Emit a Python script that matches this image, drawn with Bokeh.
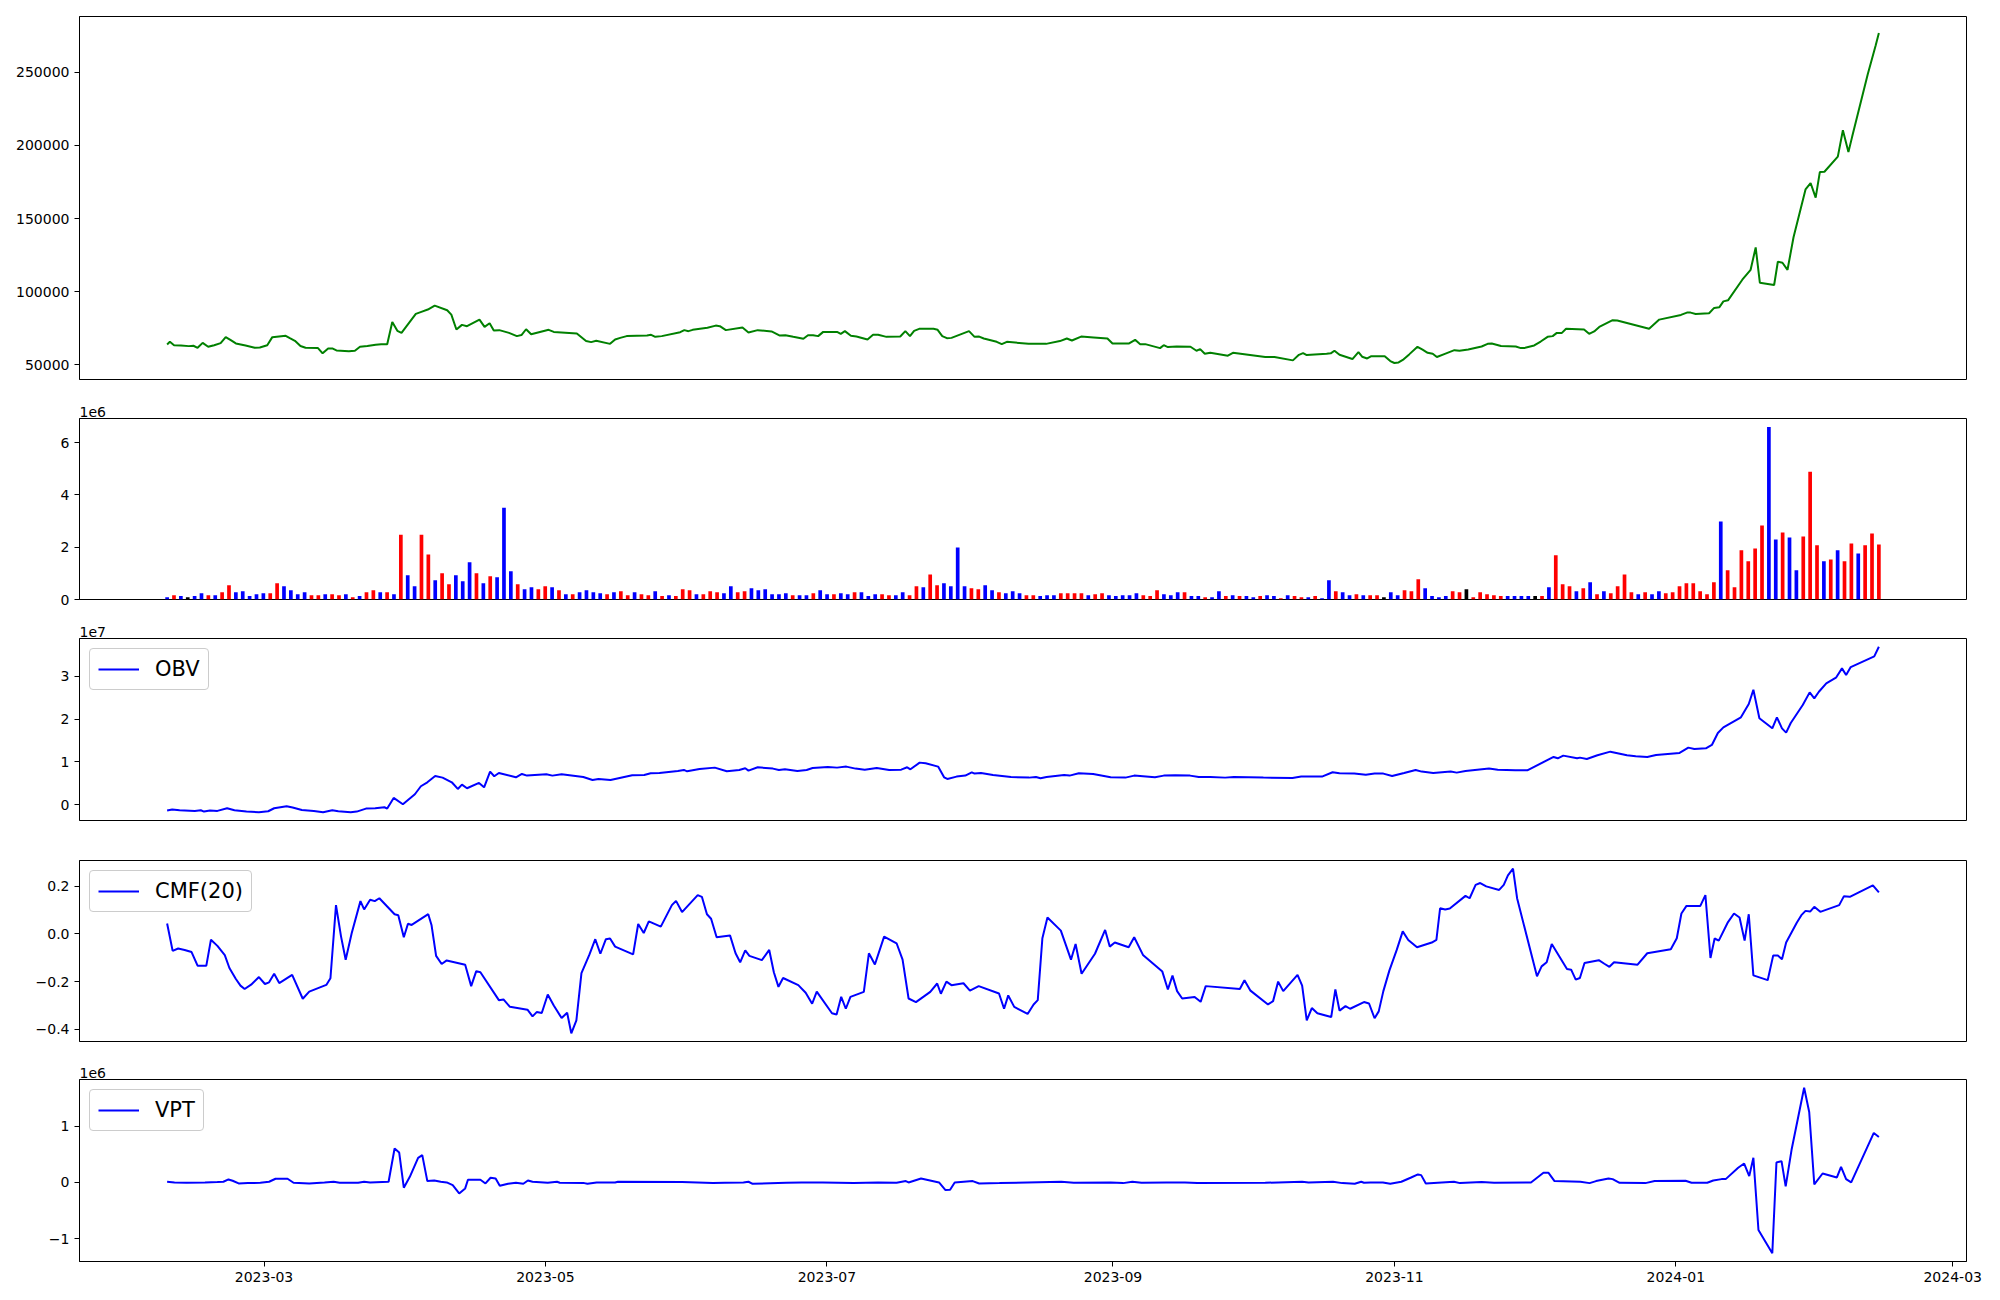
import pandas as pd
from bokeh.plotting import figure
from bokeh.layouts import column
from bokeh.models import (Range1d, FixedTicker, CustomJSTickFormatter, Legend,
                          LegendItem, Title, ColumnDataSource)
from bokeh.embed import file_html
from bokeh.resources import INLINE

# ---------------------------------------------------------------- data
FIRST_DATE = "2023-02-08"
LAST_DATE = "2024-02-14"
N_BARS = 250

# price line: days since FIRST_DATE and value
price_days = [0.0, 0.6, 1.5, 3.0, 4.7, 5.7, 6.6, 7.7, 8.9, 10.2, 11.6, 12.7, 13.8, 14.9, 17.0,
              19.0, 20.1, 21.7, 22.8, 25.7, 26.6, 27.7, 28.9, 30.0, 32.7, 33.7, 34.9, 35.8, 36.7,
              39.4, 40.7, 41.8, 43.4, 45.2, 46.4, 47.7, 48.8, 49.9, 50.8, 53.9, 55.1, 56.5, 58.0,
              60.7, 61.6, 62.7, 63.9, 65.0, 67.7, 68.8, 69.9, 70.8, 72.0, 74.1, 75.8, 76.8, 77.8,
              78.9, 82.7, 83.8, 88.8, 90.8, 91.9, 93.0, 96.0, 97.1, 98.2, 99.6, 104.0, 104.9, 105.8,
              107.2, 111.2, 112.1, 113.0, 113.9, 117.1, 118.9, 119.8, 121.1, 124.7, 126.0, 128.0,
              131.0, 132.8,
              134.0, 135.7, 137.9, 138.9, 140.0, 141.1, 142.2, 145.2, 146.0, 146.9, 148.2, 149.4,
              151.8, 153.0, 154.1, 155.9, 158.9, 160.0, 161.0, 161.9, 163.0, 166.1, 167.0, 168.0,
              169.0, 170.0, 173.8, 175.0, 176.0, 177.0, 179.8, 180.9, 182.0, 186.7, 190.5, 193.5,
              195.0, 196.1, 198.1, 200.8, 203.8, 204.9, 208.5, 209.8, 210.9, 212.0, 215.2, 216.0,
              216.9, 218.8, 221.8, 223.1, 223.9, 224.9, 226.1, 229.9, 231.0, 238.0, 240.0, 244.0,
              245.3, 246.2, 247.0, 251.3, 252.2, 253.0, 254.1, 256.9, 258.2, 259.0, 260.1, 261.0,
              263.9,
              265.1, 266.0, 266.9, 268.0, 269.2, 271.0, 272.1, 273.2, 274.3, 275.2, 276.8, 279.0,
              280.1, 282.0, 284.9, 286.2, 287.1, 289.1, 292.3, 293.4, 294.1, 296.3, 297.7, 299.2,
              300.3, 301.2, 302.3, 303.2, 307.1, 308.2, 309.3, 310.4, 313.3, 314.3, 321.2, 323.4,
              328.1, 329.4, 330.2, 331.3, 334.2, 335.3, 336.4, 337.3, 338.3, 341.4, 343.2, 344.3,
              345.2, 348.3, 349.1, 350.1, 351.2, 352.5, 355.1, 356.2, 357.3, 358.2, 359.2, 362.1,
              363.2, 364.4, 365.2, 368.6, 370.3, 371.0]
price_values = [63800, 65600, 63300, 63100, 62650, 62900, 61500, 64900, 62200, 63300, 64700, 68800,
                66700, 64500, 63100, 61500, 61700, 63300, 68800, 69700, 68100, 66300, 62700, 61500,
                61300, 57700, 61100, 61100, 59700, 59200, 59500, 62200, 62700, 63600, 64000, 64000,
                79200, 73100, 71700, 84700, 86100, 87700, 90400, 87200, 84200, 74000, 77200, 76300,
                80800, 75800, 78300, 73300, 73600, 71700, 69500, 70200, 74200, 70800, 73800, 72400,
                71300, 66100, 65400, 66300, 64200, 67200, 68300, 69500, 69900, 70400, 69000, 69500,
                72200, 73600, 72900, 73800, 75200, 76700, 76300, 73600, 75400, 72000, 73600, 72700,
                69900,
                70150, 69000, 67650, 70150, 70150, 69500, 72400, 72400, 71100, 72900, 69700, 69200,
                67200, 70400, 70400, 69000, 69200, 72900, 69500, 73100, 74500, 74500, 73800, 69500,
                68100, 68300, 72900, 69000, 69200, 67900, 65600, 64000, 65600, 64200, 64200, 66100,
                67900, 66500, 69200, 68600, 67900, 64500, 64500, 67000, 64000, 64000, 61300, 63300,
                62000, 62400, 62200, 59500, 60600, 57400, 58100, 56100, 58100, 55200, 55200, 52900,
                56700, 57900, 56500, 57400, 57700, 59500, 56700, 53800, 58600, 55400, 54200, 55800,
                55800,
                52400, 51100, 51500, 53600, 57000, 62200, 60200, 58100, 57400, 55200, 57200, 59900,
                59500, 60400, 62400, 64200, 64500, 62700, 62400, 61300, 61300, 63100, 65800, 69000,
                69500, 71700, 71700, 74500, 74000, 71100, 72700, 75800, 80400, 80200, 74500, 80800,
                84000, 85600, 85600, 84700, 85200, 88800, 89200, 93300, 94000, 108100, 114900, 130200,
                106100, 104500, 120400, 119700, 114900, 137200, 169900, 174300, 164300, 181800, 182000,
                192400, 210400, 195600, 205900, 249000, 268400, 277000]

# volume bars (one per sample, millions) and price direction (1 up, -1 down, 0 flat)
volume_millions = [
    0.09, 0.16, 0.13, 0.09, 0.13, 0.24, 0.16, 0.16, 0.28, 0.54,
    0.28, 0.32, 0.13, 0.20, 0.24, 0.24, 0.62, 0.51, 0.35, 0.20,
    0.28, 0.16, 0.16, 0.20, 0.20, 0.16, 0.20, 0.09, 0.13, 0.28,
    0.35, 0.28, 0.28, 0.20, 2.48, 0.93, 0.51, 2.48, 1.72, 0.74,
    1.00, 0.58, 0.93, 0.70, 1.42, 1.00, 0.62, 0.89, 0.85, 3.51,
    1.08, 0.58, 0.39, 0.47, 0.39, 0.51, 0.47, 0.35, 0.20, 0.20,
    0.28, 0.35, 0.28, 0.24, 0.20, 0.28, 0.32, 0.16, 0.28, 0.20,
    0.16, 0.32, 0.13, 0.16, 0.13, 0.39, 0.35, 0.20, 0.20, 0.32,
    0.28, 0.24, 0.51, 0.28, 0.32, 0.43, 0.35, 0.39, 0.20, 0.20,
    0.24, 0.16, 0.16,
    0.16, 0.24, 0.35, 0.20, 0.20, 0.24, 0.20, 0.28, 0.28, 0.13,
    0.20, 0.20, 0.16, 0.16, 0.28, 0.16, 0.51, 0.47, 0.96, 0.54,
    0.62, 0.51, 1.99, 0.51, 0.43, 0.39, 0.54, 0.35, 0.28, 0.24,
    0.32, 0.24, 0.16, 0.16, 0.13, 0.16, 0.16, 0.24, 0.24, 0.24,
    0.24, 0.16, 0.20, 0.24, 0.16, 0.13, 0.16, 0.16, 0.24, 0.16,
    0.13, 0.35, 0.20, 0.16, 0.28, 0.28, 0.13, 0.13, 0.09, 0.09,
    0.32, 0.13, 0.16, 0.13, 0.13, 0.09, 0.13, 0.16, 0.13, 0.05,
    0.16, 0.13, 0.09, 0.09, 0.13, 0.05, 0.74, 0.32, 0.28, 0.16,
    0.20, 0.16, 0.16, 0.16, 0.09, 0.28, 0.16,
    0.35, 0.32, 0.77, 0.43, 0.13, 0.09, 0.13, 0.32, 0.28, 0.39,
    0.09, 0.28, 0.20, 0.16, 0.13, 0.13, 0.13, 0.13, 0.13, 0.13,
    0.13, 0.47, 1.69, 0.58, 0.51, 0.32, 0.43, 0.66, 0.20, 0.32,
    0.24, 0.51, 0.96, 0.28, 0.20, 0.28, 0.20, 0.32, 0.24, 0.28,
    0.51, 0.62, 0.62, 0.32, 0.20, 0.66, 2.98, 1.12, 0.47, 1.88,
    1.46, 1.95, 2.83, 6.59, 2.29, 2.56, 2.37, 1.12, 2.41, 4.88,
    2.07, 1.46, 1.53, 1.88, 1.46, 2.14, 1.76, 2.07, 2.52, 2.10]
volume_direction = [
    -1, 1, -1, 0, -1, -1, 1, -1, 1, 1,
    -1, -1, -1, -1, -1, 1, 1, -1, -1, -1,
    -1, 1, 1, -1, 1, 1, -1, 1, -1, 1,
    1, -1, 1, -1, 1, -1, -1, 1, 1, -1,
    1, 1, -1, -1, -1, 1, -1, 1, -1, -1,
    -1, 1, -1, -1, 1, 1, -1, 1, -1, 1,
    -1, -1, -1, -1, 1, -1, 1, 1, -1, 1,
    1, -1, 1, -1, 1, 1, 1, -1, 1, 1,
    1, -1, -1, 1, 1, -1, -1, -1, -1, -1,
    -1, 1, -1,
    -1, 1, -1, -1, 1, -1, -1, 1, -1, -1,
    -1, 1, 1, -1, -1, 1, 1, -1, 1, 1,
    -1, -1, -1, -1, 1, 1, -1, -1, 1, -1,
    -1, -1, 1, 1, -1, -1, -1, 1, 1, 1,
    1, -1, 1, 1, -1, -1, -1, -1, -1, 1,
    1, 1, -1, -1, -1, 1, -1, -1, 1, -1,
    -1, 1, -1, 1, -1, -1, 1, -1, -1, 1,
    -1, 1, 1, -1, 1, -1, -1, 1, -1, -1,
    1, -1, 1, 1, 0, -1, -1,
    1, 1, 1, -1, -1, -1, -1, 1, 1, 0,
    1, 1, 1, 1, 1, -1, -1, -1, -1, 0,
    1, -1, 1, 1, 1, -1, 1, -1, 1, -1,
    1, 1, 1, 1, -1, 1, -1, -1, 1, 1,
    1, 1, 1, 1, 1, 1, -1, 1, 1, 1,
    1, 1, 1, -1, -1, 1, -1, -1, 1, 1,
    1, -1, 1, -1, 1, 1, -1, 1, 1, 1]

# OBV (units of 1e7)
obv_days = [0.0, 1.1, 2.7, 6.0, 7.3, 8.0, 9.3, 10.9, 13.0, 14.6, 17.2, 19.9, 21.9, 23.2, 25.9,
            27.2, 29.2, 31.8, 33.8, 35.8, 37.1, 39.8, 41.1, 43.1, 45.1, 47.1, 47.7, 49.1, 51.1,
            53.7, 55.0, 56.4, 58.1, 59.7, 61.7, 63.0, 63.9, 65.0, 67.6, 68.7, 70.0, 70.9, 71.9,
            75.6, 76.9, 78.0, 82.2, 83.5, 85.5, 90.2, 92.2, 93.5, 96.1, 100.8, 103.4, 104.8,
            106.7, 110.7, 112.0, 112.7, 115.4, 118.7, 121.3, 124.0, 125.3, 126.0, 128.0, 131.3,
            132.6, 133.9, 136.6, 138.6, 139.9, 143.2, 145.2, 147.2, 149.2, 151.2, 153.8, 156.5,
            159.1, 160.4, 161.1, 163.1, 164.4, 167.1, 168.4, 169.1, 171.1, 173.0, 174.4, 175.0,
            176.4, 179.0,
            182.9, 186.8, 188.3, 189.3, 190.6, 194.4, 195.6, 197.6, 200.7, 204.5, 207.7, 209.6,
            211.5, 214.1, 216.0, 218.5, 221.7, 223.6, 226.1, 229.3, 231.2, 237.6, 243.9, 245.8,
            250.3, 252.6, 254.1, 257.3, 259.8, 261.7, 263.6, 265.5, 268.1, 270.6, 271.9, 274.4,
            278.2, 279.5, 281.4, 286.5, 288.4, 292.2, 294.8, 300.5, 301.4, 302.6, 305.6, 306.2,
            307.7, 310.0, 312.8, 316.4, 318.3, 320.8, 322.7, 327.8, 329.7, 331.0, 333.5, 334.8,
            336.1, 337.3, 341.1, 342.8, 343.8, 345.1, 347.9, 348.9, 350.0, 350.9, 351.9, 354.5,
            356.0, 357.0, 358.0, 359.6, 361.7, 363.0, 363.9, 364.9, 370.0, 371.0]
obv_1e7 = [-0.140, -0.117, -0.133, -0.148, -0.133, -0.164, -0.140, -0.148, -0.086, -0.133,
           -0.164, -0.179, -0.156, -0.086, -0.039, -0.070, -0.125, -0.148, -0.179, -0.133,
           -0.156, -0.179, -0.164, -0.094, -0.086, -0.062, -0.094, 0.156, 0.008, 0.242,
           0.429, 0.522, 0.670, 0.631, 0.522, 0.366, 0.468, 0.382, 0.507, 0.405,
           0.772, 0.663, 0.740, 0.639, 0.717, 0.678, 0.709, 0.678, 0.709, 0.647,
           0.577, 0.600, 0.577, 0.686, 0.694, 0.733, 0.740, 0.787, 0.811, 0.779,
           0.834, 0.865, 0.779, 0.811, 0.850, 0.795, 0.873, 0.842, 0.811, 0.826,
           0.787, 0.811, 0.857, 0.881, 0.865, 0.889, 0.842, 0.818, 0.857, 0.811,
           0.818, 0.873, 0.826, 0.982, 0.966, 0.889, 0.639, 0.600, 0.655, 0.678,
           0.756, 0.725, 0.740, 0.694,
           0.647, 0.631, 0.647, 0.616, 0.647, 0.694, 0.678, 0.733, 0.717, 0.639,
           0.631, 0.678, 0.663, 0.639, 0.678, 0.686, 0.678, 0.647, 0.647, 0.631,
           0.647, 0.631, 0.624, 0.655, 0.655, 0.756, 0.733, 0.725, 0.701, 0.725,
           0.725, 0.670, 0.740, 0.811, 0.772, 0.740, 0.772, 0.748, 0.787, 0.842,
           0.818, 0.803, 0.803, 1.115, 1.083, 1.146, 1.083, 1.099, 1.068, 1.154,
           1.239, 1.154, 1.130, 1.115, 1.161, 1.208, 1.333, 1.302, 1.317, 1.395,
           1.676, 1.808, 2.042, 2.354, 2.689, 2.019, 1.785, 2.042, 1.785, 1.684,
           1.910, 2.330, 2.627, 2.486, 2.642, 2.837, 2.970, 3.188, 3.032, 3.219,
           3.468, 3.694]

# CMF(20)
cmf_days = [0.0, 1.2, 2.4, 3.8, 5.3, 6.6, 8.5, 9.5, 10.9, 12.5, 13.5, 14.9, 15.9, 16.8, 18.2,
            19.9, 21.2, 22.1, 23.2, 24.3, 27.1, 29.4, 30.8, 34.5, 35.4, 36.6, 37.7, 38.7, 40.0,
            41.9, 42.7, 44.0, 45.0, 46.0, 49.3, 50.1, 51.3, 52.2, 53.0, 56.6, 57.3, 58.3, 59.5,
            60.6, 64.6, 65.9, 67.0, 67.9, 71.9, 72.9, 74.3, 78.1, 79.2, 80.1, 81.2, 82.5, 83.8,
            85.5, 86.7, 87.6, 88.7, 89.8, 91.5, 92.8, 93.9, 95.1, 96.0, 97.1, 101.0, 102.1, 103.3,
            104.4, 107.0, 109.4, 110.3, 111.6, 115.0, 115.9, 117.0, 117.9, 119.1, 122.0, 123.2,
            124.2, 125.3, 126.2, 128.9, 130.5, 131.5, 132.5, 133.5, 136.8, 138.4, 139.8, 140.8,
            144.1, 145.1, 146.1, 147.1, 148.1, 151.0, 152.1, 153.4, 155.4, 158.1, 159.4, 160.7,
            162.3, 165.4, 166.9, 167.7, 168.9, 170.0, 172.6, 174.0, 175.9, 180.3,
            181.4, 182.3, 183.6, 186.5, 187.8, 188.7, 189.7, 190.8, 193.7, 195.9, 196.9, 198.2,
            201.1, 203.3, 204.3, 205.4, 208.4, 209.6, 211.5, 215.7, 216.9, 217.9, 218.9, 220.0,
            222.7, 224.0, 225.1, 232.5, 233.5, 234.8, 238.6, 239.7, 240.8, 241.9, 245.0, 246.0,
            247.0, 248.1, 249.3, 252.3, 253.2, 254.1, 255.4, 256.4, 259.4, 260.5, 261.7, 262.6,
            263.6, 264.9, 266.5, 267.8, 269.0, 270.9, 274.1, 275.1, 275.9, 277.0, 278.0, 281.4,
            282.3, 283.6, 284.6, 285.9, 288.7, 289.7, 290.6, 291.7, 292.6, 296.9, 297.9, 299.0,
            300.1, 303.4, 304.3, 305.3, 306.2, 307.2, 310.3, 311.5, 312.6, 313.6, 318.7, 320.8,
            325.9, 327.2, 328.2, 329.3, 332.3, 333.4, 334.5, 335.4, 336.3, 338.3, 339.6, 340.8,
            341.9, 342.8, 343.8, 346.9, 348.1, 349.1, 350.0, 350.9, 353.2, 354.2, 355.1, 356.1,
            357.0, 358.3, 362.4, 363.4, 364.7, 369.7, 371.0]
cmf_values = [0.044, -0.071, -0.061, -0.067, -0.076, -0.133, -0.133, -0.024, -0.050, -0.089,
              -0.143, -0.189, -0.217, -0.231, -0.213, -0.181, -0.210, -0.203, -0.167, -0.206,
              -0.172, -0.272, -0.242, -0.214, -0.186, 0.121, -0.011, -0.108, 0.003, 0.138,
              0.103, 0.144, 0.138, 0.150, 0.083, 0.079, -0.014, 0.043, 0.038, 0.083,
              0.038, -0.092, -0.126, -0.111, -0.129, -0.219, -0.156, -0.161, -0.278, -0.275,
              -0.306, -0.318, -0.346, -0.328, -0.332, -0.254, -0.300, -0.353, -0.331, -0.417,
              -0.363, -0.164, -0.088, -0.022, -0.083, -0.022, -0.019, -0.053, -0.086, 0.042,
              0.004, 0.053, 0.031, 0.121, 0.139, 0.092, 0.163, 0.156, 0.083, 0.064,
              -0.014, -0.006, -0.081, -0.119, -0.069, -0.092, -0.110, -0.067, -0.161, -0.222,
              -0.185, -0.215, -0.247, -0.293, -0.242, -0.333, -0.338, -0.264, -0.314, -0.264,
              -0.243, -0.081, -0.128, -0.011, -0.039, -0.108, -0.271, -0.286, -0.243, -0.208,
              -0.251, -0.200, -0.215, -0.207, -0.238, -0.219, -0.250,
              -0.314, -0.258, -0.306, -0.336, -0.296, -0.278, -0.018, 0.069, 0.014, -0.108,
              -0.042, -0.167, -0.083, 0.017, -0.053, -0.036, -0.056, -0.014, -0.088, -0.158,
              -0.233, -0.175, -0.240, -0.271, -0.265, -0.285, -0.219, -0.231, -0.194, -0.238,
              -0.296, -0.282, -0.200, -0.240, -0.172, -0.217, -0.363, -0.311, -0.333, -0.349,
              -0.233, -0.322, -0.303, -0.314, -0.286, -0.292, -0.354, -0.325, -0.240, -0.154,
              -0.067, 0.011, -0.025, -0.056, -0.036, -0.025, 0.108, 0.103, 0.107, 0.160,
              0.150, 0.206, 0.214, 0.200, 0.185, 0.206, 0.246, 0.274, 0.149, -0.178,
              -0.136, -0.119, -0.042, -0.147, -0.150, -0.192, -0.185, -0.122, -0.110, -0.125,
              -0.138, -0.119, -0.129, -0.081, -0.064, -0.018, 0.086, 0.118, 0.118, 0.163,
              -0.101, -0.019, -0.028, 0.050, 0.086, 0.069, -0.028, 0.083, -0.174, -0.194,
              -0.090, -0.090, -0.106, -0.036, 0.047, 0.079, 0.097, 0.094, 0.114, 0.093,
              0.121, 0.158, 0.156, 0.204, 0.175]

# VPT (units of 1e6)
vpt_days = [0.0, 1.6, 4.2, 8.2, 10.9, 12.2, 13.3, 14.2, 15.5, 17.5, 20.2, 22.1, 23.5, 26.1, 27.4,
            30.8, 34.1, 36.1, 37.4, 41.4, 42.7, 44.0, 48.0, 49.3, 50.3, 51.3, 52.6, 54.4, 55.3,
            56.4, 57.9, 59.3, 60.6, 61.9, 63.3, 64.6, 65.2, 67.9, 69.0, 70.1, 71.2, 72.1, 73.9,
            75.6, 77.2, 78.2, 79.2, 82.5, 84.5, 85.1, 90.4, 91.1, 93.1, 97.1, 97.7, 111.6, 118.3,
            120.9, 124.9, 126.0, 126.9, 134.2, 137.5, 142.1, 148.8, 154.1, 158.1, 160.1, 160.7,
            163.4, 167.3, 168.7, 169.7, 170.7, 174.6, 176.0,
            180.4, 193.8, 196.5, 204.5, 207.2, 209.2, 211.2, 216.6, 220.6, 223.3, 238.0, 246.0,
            247.4, 252.7, 254.7, 257.4, 258.8, 259.4, 260.8, 263.5, 265.1, 267.5, 269.5, 271.1,
            271.8, 272.8, 278.9, 280.2, 284.9, 287.6, 295.6, 298.3, 299.4, 300.7, 306.3, 308.3,
            309.7, 312.4, 313.3, 314.8, 320.4, 322.4, 329.1, 330.4, 333.8, 335.1, 336.9, 337.8,
            340.5, 341.8, 342.9, 343.8, 344.9, 347.9, 348.8, 349.9, 350.8, 352.1, 354.8, 355.9,
            357.0, 358.8, 361.9, 362.8, 363.9, 365.0, 369.9, 371.0]
vpt_1e6 = [0.012, 0.0, -0.006, 0.0, 0.006, 0.012, 0.053, 0.030, -0.018, -0.012, -0.006, 0.012,
           0.065, 0.065, -0.006, -0.018, 0.0, 0.012, -0.006, -0.006, 0.012, 0.0, 0.012, 0.602,
           0.531, -0.094, 0.100, 0.437, 0.484, 0.024, 0.035, 0.012, 0.0, -0.047, -0.195, -0.106,
           0.047, 0.047, -0.018, 0.083, 0.071, -0.059, -0.024, -0.006, -0.024, 0.035, 0.012,
           -0.006, 0.012, -0.006, -0.012, -0.024, 0.0, 0.0, 0.012, 0.006, -0.012, -0.006, 0.0,
           0.012, -0.024, -0.006, 0.0, 0.0, -0.012, 0.0, -0.006, 0.024, 0.0, 0.071, 0.0, -0.136,
           -0.130, 0.0, 0.024, -0.018,
           -0.012, 0.012, -0.006, 0.0, -0.012, 0.012, -0.006, 0.0, 0.0, -0.012, -0.006, 0.012,
           0.0, 0.012, -0.012, -0.024, 0.012, -0.006, 0.0, 0.0, -0.024, 0.012, 0.083, 0.142,
           0.130, -0.018, 0.012, -0.012, 0.006, -0.006, 0.0, 0.171, 0.171, 0.024, 0.012, -0.012,
           0.024, 0.071, 0.059, -0.006, -0.012, 0.024, 0.030, -0.006, -0.006, 0.035, 0.059, 0.059,
           0.260, 0.336, 0.112, 0.437, -0.844, -1.257, 0.354, 0.378, -0.071, 0.590, 1.681, 1.251,
           -0.035, 0.159, 0.088, 0.277, 0.059, 0.0, 0.879, 0.808]

x_tick_dates = ["2023-03-01", "2023-05-01", "2023-07-01", "2023-09-01",
                "2023-11-01", "2024-01-01", "2024-03-01"]
price_ticks = [50000, 100000, 150000, 200000, 250000]
volume_ticks = [0, 2e6, 4e6, 6e6]
obv_ticks = [0, 1e7, 2e7, 3e7]
cmf_ticks = [-0.4, -0.2, 0.0, 0.2]
vpt_ticks = [-1e6, 0, 1e6]

# ---------------------------------------------------------------- helpers
FONT = "DejaVu Sans"
DAY_MS = 86400000
t0 = pd.Timestamp(FIRST_DATE)


def to_dates(days):
    return [t0 + pd.Timedelta(days=float(d)) for d in days]


def padded(values, zero_floor=False):
    lo, hi = min(values), max(values)
    if zero_floor:
        lo = 0.0
        return lo, hi + 0.05 * (hi - lo)
    span = hi - lo
    return lo - 0.05 * span, hi + 0.05 * span


bar_dates = pd.date_range(FIRST_DATE, LAST_DATE, periods=N_BARS)
volume = [v * 1e6 for v in volume_millions]
obv = [v * 1e7 for v in obv_1e7]
vpt = [v * 1e6 for v in vpt_1e6]
DIR_COLOR = {1: "red", -1: "blue", 0: "black"}
bar_colors = [DIR_COLOR[d] for d in volume_direction]

lo_d = bar_dates[0] - pd.Timedelta(days=0.4)
hi_d = bar_dates[-1] + pd.Timedelta(days=0.4)
pad = (hi_d - lo_d) * 0.05
x_range = Range1d(start=lo_d - pad, end=hi_d + pad)

FRAME_W = 1887
LEFT = 79


def make_fig(frame_h, top, bottom, yr, ticks, code, show_x=False):
    p = figure(frame_width=FRAME_W, frame_height=frame_h, x_range=x_range,
               y_range=Range1d(*yr), x_axis_type="datetime",
               x_axis_location="below" if show_x else None,
               output_backend="svg", toolbar_location=None, title=None,
               min_border_left=LEFT, min_border_right=20,
               min_border_top=top, min_border_bottom=bottom,
               background_fill_color="white", border_fill_color="white")
    p.xgrid.visible = False
    p.ygrid.visible = False
    p.outline_line_color = "black"
    p.outline_line_width = 1
    p.outline_line_alpha = 1.0
    ax = p.yaxis[0]
    ax.ticker = FixedTicker(ticks=ticks)
    ax.formatter = CustomJSTickFormatter(code=code)
    ax.major_label_text_font = FONT
    ax.major_label_text_font_size = "14px"
    ax.major_label_text_color = "black"
    ax.major_tick_out = 5
    ax.major_tick_in = 0
    ax.major_tick_line_color = "black"
    ax.minor_tick_line_color = None
    ax.axis_line_color = "black"
    ax.major_label_standoff = 5
    if show_x:
        xa = p.xaxis[0]
        xa.ticker = FixedTicker(ticks=[pd.Timestamp(s).value / 1e6 for s in x_tick_dates])
        xa.formatter = CustomJSTickFormatter(code=(
            "const d = new Date(tick); const m = d.getUTCMonth() + 1;"
            "return d.getUTCFullYear() + '-' + (m < 10 ? '0' + m : '' + m);"))
        xa.major_label_text_font = FONT
        xa.major_label_text_font_size = "14px"
        xa.major_label_text_color = "black"
        xa.major_tick_out = 5
        xa.major_tick_in = 0
        xa.major_tick_line_color = "black"
        xa.minor_tick_line_color = None
        xa.axis_line_color = "black"
        xa.major_label_standoff = 5
    return p


def add_offset_text(p, text):
    p.add_layout(Title(text=text, align="left", text_font=FONT, text_font_size="14px",
                       text_font_style="normal", text_color="black", standoff=4), "above")


def add_legend(p, renderer, label):
    leg = Legend(items=[LegendItem(label=label, renderers=[renderer])], location="top_left",
                 label_text_font=FONT, label_text_font_size="21px", label_text_color="black",
                 glyph_width=41, glyph_height=20, label_standoff=16, padding=8, spacing=0,
                 margin=10, border_line_color="#cccccc", border_line_width=1,
                 border_line_alpha=1.0, background_fill_color="white",
                 background_fill_alpha=0.8)
    if "border_radius" in Legend.properties():
        leg.border_radius = 4
    p.add_layout(leg)


# ---------------------------------------------------------------- figures
p1 = make_fig(363, 16, 10, padded(price_values), price_ticks, "return tick.toFixed(0);")
p1.line(to_dates(price_days), price_values, color="green", line_width=2)

p2 = make_fig(181, 29, 10, padded(volume, zero_floor=True), volume_ticks,
              "return (tick / 1e6).toFixed(0);")
add_offset_text(p2, "1e6")
src = ColumnDataSource(dict(x=bar_dates, top=volume, color=bar_colors))
p2.vbar(x="x", top="top", width=0.8 * DAY_MS, fill_color="color", line_color=None, source=src)

p3 = make_fig(182, 29, 10, padded(obv), obv_ticks, "return (tick / 1e7).toFixed(0);")
add_offset_text(p3, "1e7")
r3 = p3.line(to_dates(obv_days), obv, color="blue", line_width=2)
add_legend(p3, r3, "OBV")

p4 = make_fig(181, 30, 9, padded(cmf_values), cmf_ticks,
              "return tick.toFixed(1).replace('-', '\\u2212');")
r4 = p4.line(to_dates(cmf_days), cmf_values, color="blue", line_width=2)
add_legend(p4, r4, "CMF(20)")

p5 = make_fig(182, 29, 28, padded(vpt), vpt_ticks,
              "return (tick / 1e6).toFixed(0).replace('-', '\\u2212');", show_x=True)
add_offset_text(p5, "1e6")
r5 = p5.line(to_dates(vpt_days), vpt, color="blue", line_width=2)
add_legend(p5, r5, "VPT")

layout = column(p1, p2, p3, p4, p5, spacing=0)

with open("out.html", "w") as f:
    f.write(file_html(layout, INLINE))
